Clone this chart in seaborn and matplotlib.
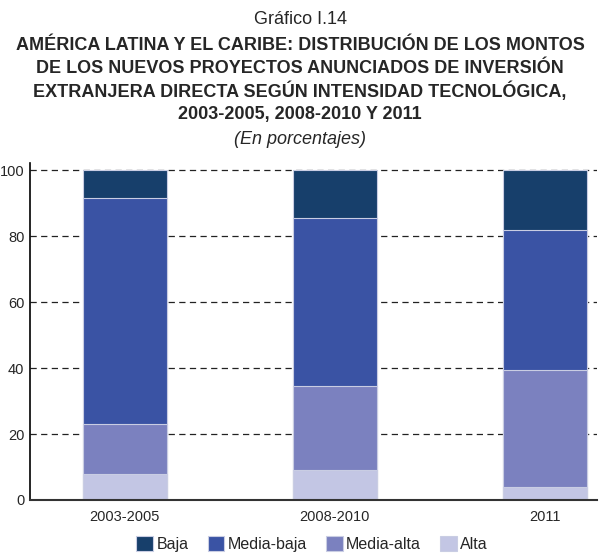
import pandas as pd
import matplotlib.pyplot as plt
import seaborn as sns

# Datos (porcentajes)
periodos = ["2003-2005", "2008-2010", "2011"]
categorias = ["Baja", "Media-baja", "Media-alta", "Alta"]
alta = [8.0, 9.0, 4.0]
media_alta = [15.0, 25.5, 35.5]
media_baja = [68.5, 51.0, 42.5]
baja = [8.5, 14.5, 18.0]
colores = ["#173f6b", "#3a53a4", "#7b81bf", "#c3c6e4"]

sns.set_style("white")
plt.rcParams["font.family"] = ["Liberation Sans", "DejaVu Sans"]

datos = pd.DataFrame({"periodo": periodos, "Alta": alta, "Media-alta": media_alta,
                      "Media-baja": media_baja, "Baja": baja})

# acumulados para apilar (se dibuja primero la capa superior)
acum = datos[["Alta", "Media-alta", "Media-baja", "Baja"]].cumsum(axis=1)

fig = plt.figure(figsize=(6, 5.54), dpi=100)
ax = fig.add_axes([0.05, 0.0975, 0.945, 0.6085])

for cat, color in zip(categorias, colores):
    sns.barplot(x=datos["periodo"], y=acum[cat], color=color, width=0.4, saturation=1,
                edgecolor="#c9cde3", linewidth=0.8, ax=ax, label=cat, zorder=2)

handles, labels = ax.get_legend_handles_labels()
if ax.get_legend() is not None:
    ax.get_legend().remove()

ax.set_ylim(0, 102.2)
ax.set_xlim(-0.452, 2.25)
ax.set_yticks([0, 20, 40, 60, 80, 100])
ax.yaxis.grid(True, linestyle=(0, (5, 3.5)), color="#222222", linewidth=0.9)
ax.set_axisbelow(True)
ax.set_xlabel("")
ax.set_ylabel("")
ax.tick_params(axis="y", length=3, width=0.8, color="black", labelsize=10.5, pad=1)
ax.tick_params(axis="x", length=0, labelsize=10.5, pad=7)
for s in ["top", "right"]:
    ax.spines[s].set_visible(False)
ax.spines["left"].set_color("black")
ax.spines["left"].set_linewidth(1.2)
ax.spines["bottom"].set_color("#333333")
ax.spines["bottom"].set_linewidth(1.5)

# Titulos
fig.text(0.5, 1 - 20 / 554, "Gráfico I.14", ha="center", va="center", fontsize=13)
lineas = ["AMÉRICA LATINA Y EL CARIBE: DISTRIBUCIÓN DE LOS MONTOS",
          "DE LOS NUEVOS PROYECTOS ANUNCIADOS DE INVERSIÓN",
          "EXTRANJERA DIRECTA SEGÚN INTENSIDAD TECNOLÓGICA,",
          "2003-2005, 2008-2010 Y 2011"]
for i, l in enumerate(lineas):
    fig.text(0.5, 1 - (45 + 23.3 * i) / 554, l, ha="center", va="center",
             fontsize=13, fontweight="bold")
fig.text(0.5, 1 - 140 / 554, "(En porcentajes)", ha="center", va="center",
         fontsize=13, fontstyle="italic")

fig.legend(handles, labels, loc="center", bbox_to_anchor=(0.52, 1 - 544 / 554),
           ncol=4, frameon=False, fontsize=11.5, handlelength=1.05, handleheight=1.05,
           handletextpad=0.2, columnspacing=1.2)

plt.savefig("out.png", dpi=100)
plt.close()
